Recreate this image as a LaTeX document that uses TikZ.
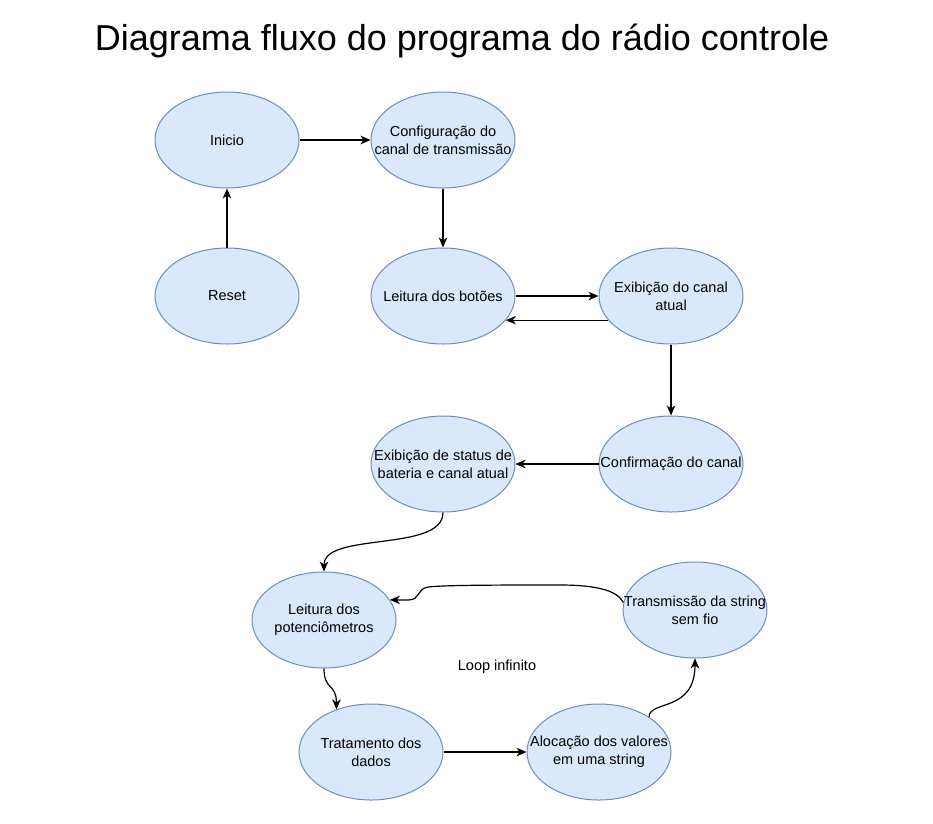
\documentclass[tikz,border=0pt]{standalone}
\usepackage{fontspec}
\setmainfont{Liberation Sans}
\usetikzlibrary{arrows.meta,shapes.geometric}
\definecolor{boxfill}{HTML}{DAE8FC}
\definecolor{boxline}{HTML}{6C8EBF}
\newcommand\ctrline[1]{\makebox[0pt]{#1}}
\begin{document}
\begin{tikzpicture}[x=1pt,y=-1pt,
  state/.style={ellipse, draw=boxline, fill=boxfill, line width=1pt,
    minimum width=144pt, minimum height=96pt, inner sep=0pt, align=center,
    font=\fontsize{14.5}{18}\selectfont},
  arr/.style={-{Stealth[length=10pt,width=8.5pt,inset=3pt]}, line width=1.2pt},
  plain/.style={font=\fontsize{14.5}{18}\selectfont}]
\useasboundingbox (0,0) rectangle (933,823);
\node[anchor=base, font=\fontsize{36}{40}\selectfont] (title) at (462,50) {Diagrama fluxo do programa do rádio controle};

\node[state] (ini) at (227,140) {\ctrline{Inicio}};
\node[state] (cfg) at (443,140) {\ctrline{Configuração do}\\\ctrline{canal de transmissão}};
\node[state] (rst) at (227,296) {\ctrline{Reset}};
\node[state] (lbt) at (443,296) {\ctrline{Leitura dos botões}};
\node[state] (exc) at (671,296) {\ctrline{Exibição do canal}\\\ctrline{atual}};
\node[state] (cnf) at (671,464) {\ctrline{Confirmação do canal}};
\node[state] (est) at (443,464) {\ctrline{Exibição de status de}\\\ctrline{bateria e canal atual}};
\node[state] (pot) at (324,620) {\ctrline{Leitura dos}\\\ctrline{potenciômetros}};
\node[state] (trn) at (695,610) {\ctrline{Transmissão da string}\\\ctrline{sem fio}};
\node[state] (trt) at (371,752) {\ctrline{Tratamento dos}\\\ctrline{dados}};
\node[state] (alo) at (599,752) {\ctrline{Alocação dos valores}\\\ctrline{em uma string}};
\node[plain] (loop) at (497,667) {Loop infinito};

\draw[arr] (ini.east) -- (cfg.west);
\draw[arr] (cfg.south) -- (lbt.north);
\draw[arr] (rst.north) -- (ini.south);
\draw[arr] (lbt.east) -- (exc.west);
\draw[arr] (exc.201) -- (lbt.339);
\draw[arr] (exc.south) -- (cnf.north);
\draw[arr] (cnf.west) -- (est.east);
\draw[arr] (est.south) .. controls +(0,40) and +(0,-40) .. (pot.north);
\draw[arr] (pot.south) .. controls +(0,22) and +(0,-26) .. (trt.129);
\draw[arr] (trt.east) -- (alo.west);
\draw[arr] (alo.35) .. controls +(0,-17) and +(0,54) .. (trn.south);
\draw[arr] (trn.174) .. controls (617,590) and (595,585) .. (560,585)
  .. controls (500,585) and (445,585) .. (428,587)
  .. controls (416,589) and (421,600) .. (408,600) -- (pot.17);
\end{tikzpicture}
\end{document}
